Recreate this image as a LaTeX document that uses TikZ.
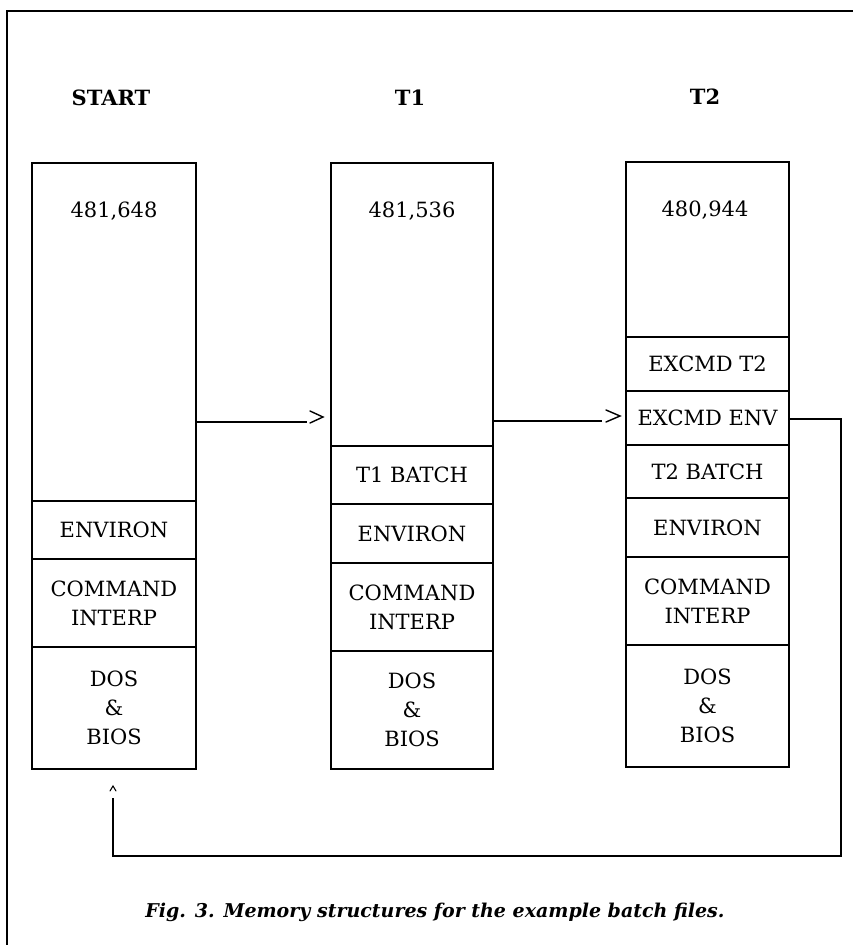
\documentclass[tikz,border=0pt]{standalone}
\usepackage{fontspec}
\setmainfont{DejaVu Serif}
\begin{document}
\begin{tikzpicture}[x=1pt,y=-1pt,line width=1.5pt,
  cell/.style={draw,rectangle,inner sep=0pt,align=center,font=\fontsize{21}{29}\selectfont},
  lbl/.style={inner sep=0pt,font=\fontsize{21}{29}\selectfont},
  ttl/.style={inner sep=0pt,font=\fontsize{21}{29}\selectfont\bfseries},
  tipmark/.style={line width=1.4pt,line cap=round,line join=miter}]
\useasboundingbox (0,0) rectangle (853,945);
% outer frame (continues past the right and bottom edges)
\draw (853,11) -- (7,11) -- (7,945);

% titles
\node[ttl] (tS) at (111,98) {START};
\node[ttl] (t1) at (410,98) {T1};
\node[ttl] (t2) at (705,97) {T2};

% ---- START column (x 32..196)
\node[cell,minimum width=164pt,minimum height=338pt] (s0) at (114,332) {};
\node[cell,minimum width=164pt,minimum height=58pt] (s1) at (114,530) {ENVIRON};
\node[cell,minimum width=164pt,minimum height=88pt] (s2) at (114,603) {COMMAND\\INTERP};
\node[cell,minimum width=164pt,minimum height=122pt] (s3) at (114,708) {DOS\\\&\\BIOS};
\node[lbl] (sn) at (114,211) {481,648};

% ---- T1 column (x 331..493)
\node[cell,minimum width=162pt,minimum height=283pt] (a0) at (412,304.5) {};
\node[cell,minimum width=162pt,minimum height=58pt] (a1) at (412,475) {T1 BATCH};
\node[cell,minimum width=162pt,minimum height=59pt] (a2) at (412,533.5) {ENVIRON};
\node[cell,minimum width=162pt,minimum height=88pt] (a3) at (412,607) {COMMAND\\INTERP};
\node[cell,minimum width=162pt,minimum height=118pt] (a4) at (412,710) {DOS\\\&\\BIOS};
\node[lbl] (an) at (412,211) {481,536};

% ---- T2 column (x 626..789)
\node[cell,minimum width=163pt,minimum height=175pt] (b0) at (707.5,249.5) {};
\node[cell,minimum width=163pt,minimum height=54pt] (b1) at (707.5,364) {EXCMD T2};
\node[cell,minimum width=163pt,minimum height=54pt] (b2) at (707.5,418) {EXCMD ENV};
\node[cell,minimum width=163pt,minimum height=53pt] (b3) at (707.5,471.5) {T2 BATCH};
\node[cell,minimum width=163pt,minimum height=59pt] (b4) at (707.5,527.5) {ENVIRON};
\node[cell,minimum width=163pt,minimum height=88pt] (b5) at (707.5,601) {COMMAND\\INTERP};
\node[cell,minimum width=163pt,minimum height=122pt] (b6) at (707.5,706) {DOS\\\&\\BIOS};
\node[lbl] (bn) at (705,210) {480,944};

% ---- connectors
\coordinate (e1) at (307,422);
\draw (s0.east |- e1) -- (e1);
\draw[tipmark] (310,411) -- (323,417) -- (310,423);

\coordinate (e2) at (602,421);
\draw (a0.east |- e2) -- (e2);
\draw[tipmark] (606,410) -- (620,416) -- (606,422);

\coordinate (r1) at (841,419);
\coordinate (r2) at (841,856);
\coordinate (r3) at (113,856);
\coordinate (e3) at (113,798);
\draw (b2.east |- r1) -- (r1) -- (r2) -- (r3) -- (e3);
\draw[tipmark,line width=1.1pt] (110,791) -- (113,786) -- (116,791);

% caption
\node[inner sep=0pt,font=\fontsize{19}{23}\selectfont\bfseries\itshape] (cap) at (435,912)
  {Fig. 3. Memory structures for the example batch files.};
\end{tikzpicture}
\end{document}
